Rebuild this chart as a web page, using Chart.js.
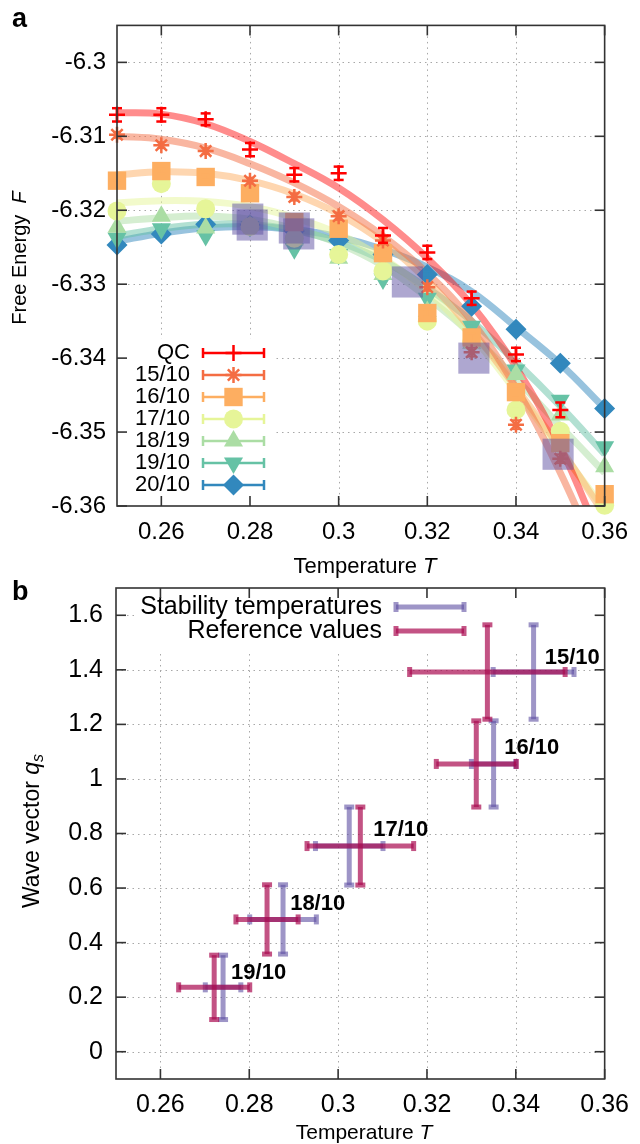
<!DOCTYPE html>
<html>
<head>
<meta charset="utf-8">
<script src="https://cdn.jsdelivr.net/npm/chart.js@4.4.1/dist/chart.umd.min.js"></script>
<style>
  html, body { margin: 0; padding: 0; background: #fff; }
  #wrapA { position: absolute; left: 0; top: 0; width: 640px; height: 584px; }
  #wrapB { position: absolute; left: 0; top: 560px; width: 640px; height: 584px; }
</style>
</head>
<body>
<div id="wrapA"><canvas id="chartA" width="640" height="584"></canvas></div>
<div id="wrapB"><canvas id="chartB" width="640" height="584"></canvas></div>
<script>
// ---------- panel a : free energy ----------
const temps = [0.25, 0.26, 0.27, 0.28, 0.29, 0.30, 0.31, 0.32, 0.33, 0.34, 0.35, 0.36];
const seriesNames = ['QC', '15/10', '16/10', '17/10', '18/19', '19/10', '20/10'];

const fQC = [-6.3071, -6.3071, -6.3077, -6.3118, -6.3152, -6.3150, -6.3234, -6.3257, -6.3319, -6.3395, -6.3470, null];
const f15 = [-6.3098, -6.3112, -6.3120, -6.3160, -6.3182, -6.3208, -6.3241, -6.3304, -6.3392, -6.3490, -6.3536, null];
const f16 = [-6.3160, -6.3147, -6.3155, -6.3177, -6.3216, -6.3225, -6.3258, -6.3339, -6.3372, -6.3446, -6.3515, -6.3584];
const f17 = [-6.3201, -6.3164, -6.3198, -6.3222, -6.3238, -6.3260, -6.3282, -6.3350, -6.3378, -6.3470, -6.3499, -6.3599];
const f18 = [-6.3223, -6.3208, -6.3224, -6.3220, -6.3240, -6.3265, -6.3287, -6.3337, -6.3380, -6.3422, -6.3477, -6.3547];
const f19 = [-6.3238, -6.3225, -6.3234, -6.3222, -6.3252, -6.3260, -6.3293, -6.3319, -6.3357, -6.3416, -6.3457, -6.3520];
const f20 = [-6.3247, -6.3232, -6.3219, -6.3220, -6.3228, -6.3241, -6.3260, -6.3287, -6.3330, -6.3361, -6.3407, -6.3468];

const eQC = [0.0009, 0.0009, 0.0008, 0.0009, 0.0009, 0.0009, 0.0010, 0.0009, 0.0009, 0.0009, 0.0010, 0];
const e15 = [0.0004, 0.0004, 0.0004, 0.0004, 0.0005, 0.0005, 0.0005, 0.0005, 0.0006, 0.0006, 0.0006, 0];
const e16 = [0.0003, 0.0003, 0.0003, 0.0004, 0.0004, 0.0004, 0.0004, 0.0005, 0.0005, 0.0005, 0.0006, 0.0006];
const e17 = [0.0003, 0.0003, 0.0003, 0.0003, 0.0004, 0.0004, 0.0004, 0.0004, 0.0005, 0.0005, 0.0005, 0.0006];
const e18 = [0.0003, 0.0003, 0.0003, 0.0003, 0.0003, 0.0004, 0.0004, 0.0004, 0.0004, 0.0005, 0.0005, 0.0005];
const e19 = [0.0003, 0.0003, 0.0003, 0.0003, 0.0003, 0.0003, 0.0004, 0.0004, 0.0004, 0.0005, 0.0005, 0.0005];
const e20 = [0.0003, 0.0003, 0.0003, 0.0003, 0.0003, 0.0004, 0.0004, 0.0004, 0.0005, 0.0005, 0.0006, 0.0006];

// fitted curves
const fitQC = [-6.3068, -6.3070, -6.3083, -6.3107, -6.3137, -6.3170, -6.3213, -6.3265, -6.3328, -6.3412, -6.3520, -6.3660];
const fit15 = [-6.3100, -6.3104, -6.3116, -6.3137, -6.3163, -6.3195, -6.3235, -6.3285, -6.3350, -6.3440, -6.3555, -6.3690];
const fit16 = [-6.3152, -6.3148, -6.3150, -6.3160, -6.3178, -6.3205, -6.3243, -6.3295, -6.3362, -6.3440, -6.3522, -6.3612];
const fit17 = [-6.3190, -6.3187, -6.3188, -6.3195, -6.3210, -6.3232, -6.3265, -6.3310, -6.3370, -6.3445, -6.3525, -6.3605];
const fit18 = [-6.3215, -6.3210, -6.3208, -6.3212, -6.3225, -6.3245, -6.3275, -6.3318, -6.3368, -6.3428, -6.3492, -6.3555];
const fit19 = [-6.3235, -6.3225, -6.3219, -6.3219, -6.3227, -6.3243, -6.3268, -6.3305, -6.3350, -6.3405, -6.3465, -6.3530];
const fit20 = [-6.3242, -6.3231, -6.3224, -6.3222, -6.3226, -6.3236, -6.3253, -6.3277, -6.3310, -6.3358, -6.3408, -6.3468];

// stability points (purple squares)
const stabTa = [0.2795, 0.2805, 0.2900, 0.2910, 0.3155, 0.3305, 0.3495];
const stabFa = [-6.3212, -6.3220, -6.3224, -6.3232, -6.3297, -6.3400, -6.3530];

const xTicks = [0.26, 0.28, 0.30, 0.32, 0.34, 0.36];
const yTicksA = [-6.36, -6.35, -6.34, -6.33, -6.32, -6.31, -6.30];

// ---------- panel b : wave vector ----------
const bNames = ['15/10', '16/10', '17/10', '18/10', '19/10'];
const qS = [1.392, 1.055, 0.754, 0.485, 0.236];
const qErr = [0.173, 0.158, 0.143, 0.127, 0.118];
const stabT = [0.3440, 0.3350, 0.3025, 0.2876, 0.2741];
const stabTErr = [0.0091, 0.0050, 0.0076, 0.0075, 0.0040];
const refT = [0.3336, 0.3311, 0.3050, 0.2840, 0.2721];
const refTErr = [0.0175, 0.0090, 0.0120, 0.0070, 0.0080];
const labelT = [0.3465, 0.3374, 0.3079, 0.2892, 0.2759];
const labelQ = [1.443, 1.115, 0.813, 0.541, 0.290];
const yTicksB = [0, 0.2, 0.4, 0.6, 0.8, 1.0, 1.2, 1.4, 1.6];

// ---------- styles ----------
const FONT = "'Liberation Sans', Arial, Helvetica, sans-serif";
Chart.defaults.font.family = FONT;
Chart.defaults.color = '#000';

const colors = ['#ff0000', '#f46d43', '#fdae61', '#e6f598', '#abdda4', '#66c2a5', '#3288bd'];
const markers = [
  { style: 'cross', r: 8, rot: 0, bw: 2.5, cap: 5 },
  { style: 'star', r: 8, rot: 0, bw: 2.5, cap: 4 },
  { style: 'rect', r: 13, rot: 0, bw: 0, cap: 4 },
  { style: 'circle', r: 9.5, rot: 0, bw: 0, cap: 4 },
  { style: 'triangle', r: 11, rot: 0, bw: 0, cap: 4 },
  { style: 'triangle', r: 11, rot: 180, bw: 0, cap: 4 },
  { style: 'rectRot', r: 10.5, rot: 0, bw: 0, cap: 4 }
];
const purpleSq = 'rgba(94, 79, 162, 0.5)';
const stabColor = 'rgba(94, 79, 162, 0.6)';
const refColor = 'rgba(170, 10, 80, 0.7)';

function rgba(hex, a) {
  const n = parseInt(hex.slice(1), 16);
  return `rgba(${n >> 16}, ${(n >> 8) & 255}, ${n & 255}, ${a})`;
}
function seg(ctx, x1, y1, x2, y2) {
  ctx.beginPath(); ctx.moveTo(x1, y1); ctx.lineTo(x2, y2); ctx.stroke();
}
function fmt(v) { return String(+v.toFixed(4)); }

function drawMixed(ctx, parts, x, y) {
  let total = 0;
  parts.forEach(p => { ctx.font = p.font; p.w = ctx.measureText(p.text).width; total += p.w; });
  let cx = x - total / 2;
  parts.forEach(p => { ctx.font = p.font; ctx.fillText(p.text, cx, y + (p.dy || 0)); cx += p.w; });
}

function drawGrid(chart, yTicks) {
  const { ctx, chartArea: a } = chart;
  const xs = chart.scales.x, ys = chart.scales.y;
  ctx.save();
  ctx.strokeStyle = '#a8a8a8'; ctx.lineWidth = 1; ctx.setLineDash([1.5, 4]);
  xTicks.forEach(v => {
    const px = Math.round(xs.getPixelForValue(v)) + 0.5;
    if (px < a.right - 2) seg(ctx, px, a.top, px, a.bottom);
  });
  yTicks.forEach(v => {
    const py = Math.round(ys.getPixelForValue(v)) + 0.5;
    if (py < a.bottom - 2 && py > a.top + 2) seg(ctx, a.left, py, a.right, py);
  });
  ctx.restore();
}

function drawFrame(chart, yTicks) {
  const { ctx, chartArea: a } = chart;
  const xs = chart.scales.x, ys = chart.scales.y;
  ctx.save();
  ctx.strokeStyle = '#333'; ctx.lineWidth = 1.6; ctx.setLineDash([]);
  xTicks.forEach(v => {
    const px = xs.getPixelForValue(v);
    seg(ctx, px, a.bottom, px, a.bottom - 10);
    seg(ctx, px, a.top, px, a.top + 10);
  });
  yTicks.forEach(v => {
    const py = ys.getPixelForValue(v);
    seg(ctx, a.left, py, a.left + 10, py);
    seg(ctx, a.right, py, a.right - 10, py);
  });
  ctx.strokeRect(a.left, a.top, a.right - a.left, a.bottom - a.top);
  ctx.restore();
}

function fixedScales(yMin, yMax, yTicks, yWidth, xHeight, xFont, yFont, xPad, yPad) {
  return {
    x: {
      type: 'linear', min: 0.25, max: 0.36,
      afterBuildTicks: s => { s.ticks = xTicks.map(v => ({ value: v })); },
      afterFit: s => { s.height = xHeight; },
      ticks: { callback: fmt, font: { size: xFont }, padding: xPad, maxRotation: 0, autoSkip: false },
      grid: { display: false, drawTicks: false },
      border: { display: false }
    },
    y: {
      type: 'linear', min: yMin, max: yMax,
      afterBuildTicks: s => { s.ticks = yTicks.map(v => ({ value: v })); },
      afterFit: s => { s.width = yWidth; },
      ticks: { callback: fmt, font: { size: yFont }, padding: yPad, autoSkip: false },
      grid: { display: false, drawTicks: false },
      border: { display: false }
    }
  };
}

// ---------- chart a ----------
const pointSets = [fQC, f15, f16, f17, f18, f19, f20];
const errSets = [eQC, e15, e16, e17, e18, e19, e20];
const fitSets = [fitQC, fit15, fit16, fit17, fit18, fit19, fit20];

const datasetsA = [];
fitSets.forEach((fit, i) => {
  datasetsA.push({
    data: temps.map((t, k) => ({ x: t, y: fit[k] })),
    showLine: true, borderColor: rgba(colors[i], i === 0 ? 0.45 : 0.5), borderWidth: 7,
    pointRadius: 0, tension: 0.4, fill: false, order: 3, clip: 0
  });
});
pointSets.forEach((vals, i) => {
  const pts = [], errs = [];
  temps.forEach((t, k) => {
    if (vals[k] !== null) { pts.push({ x: t, y: vals[k] }); errs.push(errSets[i][k]); }
  });
  const m = markers[i];
  datasetsA.push({
    data: pts, errors: errs, capHalf: m.cap, errWidth: i === 0 ? 2.5 : 2,
    showLine: false, pointStyle: m.style, pointRadius: m.r, pointRotation: m.rot,
    pointBackgroundColor: colors[i], pointBorderColor: colors[i], pointBorderWidth: m.bw,
    borderColor: colors[i], order: 2, clip: false
  });
});
datasetsA.push({
  data: stabTa.map((t, k) => ({ x: t, y: stabFa[k] })),
  showLine: false, pointStyle: 'rect', pointRadius: 22,
  pointBackgroundColor: purpleSq, pointBorderWidth: 0, order: 1, clip: false
});

const panelA = {
  id: 'panelA',
  beforeDatasetsDraw(chart) {
    drawGrid(chart, yTicksA);
    const { ctx, chartArea: a } = chart;
    ctx.save();
    ctx.fillStyle = '#fff';
    ctx.fillRect(a.left + 1, 339, 155, a.bottom - 340);
    ctx.restore();
  },
  afterDatasetDraw(chart, args) {
    const ds = chart.data.datasets[args.index];
    if (!ds.errors) return;
    const { ctx } = chart;
    const xs = chart.scales.x, ys = chart.scales.y;
    ctx.save();
    ctx.strokeStyle = ds.borderColor; ctx.lineWidth = ds.errWidth;
    ds.data.forEach((p, k) => {
      const e = ds.errors[k];
      if (!e) return;
      const px = xs.getPixelForValue(p.x);
      const y1 = ys.getPixelForValue(p.y - e), y2 = ys.getPixelForValue(p.y + e);
      seg(ctx, px, y1, px, y2);
      seg(ctx, px - ds.capHalf, y1, px + ds.capHalf, y1);
      seg(ctx, px - ds.capHalf, y2, px + ds.capHalf, y2);
    });
    ctx.restore();
  },
  afterDatasetsDraw(chart) {
    const { ctx } = chart;
    ctx.save();
    // key
    seriesNames.forEach((name, i) => {
      const y = 353 + i * 22;
      ctx.font = `22px ${FONT}`; ctx.fillStyle = '#000';
      ctx.textAlign = 'right'; ctx.textBaseline = 'middle';
      ctx.fillText(name, 190, y);
      ctx.strokeStyle = colors[i]; ctx.lineWidth = 2.5;
      seg(ctx, 203, y, 264, y);
      seg(ctx, 203, y - 5, 203, y + 5);
      seg(ctx, 264, y - 5, 264, y + 5);
      const m = markers[i];
      ctx.fillStyle = colors[i]; ctx.strokeStyle = colors[i]; ctx.lineWidth = m.bw || 1;
      Chart.helpers.drawPoint(ctx, { pointStyle: m.style, radius: m.r, rotation: m.rot, borderWidth: m.bw }, 233.5, y);
    });
    ctx.restore();
    drawFrame(chart, yTicksA);
  },
  afterDraw(chart) {
    const { ctx } = chart;
    ctx.save();
    ctx.fillStyle = '#000'; ctx.textBaseline = 'middle'; ctx.textAlign = 'left';
    drawMixed(ctx, [
      { text: 'Temperature ', font: `22px ${FONT}` },
      { text: 'T', font: `italic 22px ${FONT}` }
    ], 365, 567);
    ctx.save();
    ctx.translate(20, 258); ctx.rotate(-Math.PI / 2);
    drawMixed(ctx, [
      { text: 'Free Energy  ', font: `20px ${FONT}` },
      { text: 'F', font: `italic 20px ${FONT}` }
    ], 0, 0);
    ctx.restore();
    ctx.font = `bold 27px ${FONT}`; ctx.textBaseline = 'alphabetic';
    ctx.fillText('a', 12, 27);
    ctx.restore();
  }
};

new Chart(document.getElementById('chartA'), {
  type: 'scatter',
  data: { datasets: datasetsA },
  options: {
    responsive: false, animation: false, devicePixelRatio: 1, events: [],
    layout: { padding: { top: 10, right: 27, left: 0, bottom: 0 } },
    plugins: { legend: { display: false }, tooltip: { enabled: false } },
    scales: fixedScales(-6.36, -6.295, yTicksA, 117, 78, 24, 24, 12, 11)
  },
  plugins: [panelA]
});

// ---------- chart b ----------
function drawCross(ctx, xs, ys, t, tErr, q, qE, color) {
  ctx.strokeStyle = color; ctx.lineWidth = 5; ctx.lineCap = 'butt';
  const xc = xs.getPixelForValue(t), x0 = xs.getPixelForValue(t - tErr), x1 = xs.getPixelForValue(t + tErr);
  const yc = ys.getPixelForValue(q), y0 = ys.getPixelForValue(q - qE), y1 = ys.getPixelForValue(q + qE);
  seg(ctx, x0, yc, x1, yc);
  seg(ctx, x0, yc - 5, x0, yc + 5);
  seg(ctx, x1, yc - 5, x1, yc + 5);
  seg(ctx, xc, y0, xc, y1);
  seg(ctx, xc - 5, y0, xc + 5, y0);
  seg(ctx, xc - 5, y1, xc + 5, y1);
}

const panelB = {
  id: 'panelB',
  beforeDatasetsDraw(chart) {
    drawGrid(chart, yTicksB);
    const { ctx, chartArea: a } = chart;
    ctx.save();
    ctx.fillStyle = '#fff';
    ctx.fillRect(138, a.top + 1, 462, 62);
    ctx.restore();
  },
  afterDatasetsDraw(chart) {
    const { ctx } = chart;
    const xs = chart.scales.x, ys = chart.scales.y;
    ctx.save();
    stabT.forEach((t, k) => drawCross(ctx, xs, ys, t, stabTErr[k], qS[k], qErr[k], stabColor));
    refT.forEach((t, k) => drawCross(ctx, xs, ys, t, refTErr[k], qS[k], qErr[k], refColor));
    ctx.fillStyle = '#000'; ctx.font = `bold 22px ${FONT}`;
    ctx.textAlign = 'left'; ctx.textBaseline = 'middle';
    bNames.forEach((n, k) => {
      ctx.fillText(n, xs.getPixelForValue(labelT[k]), ys.getPixelForValue(labelQ[k]));
    });
    // key
    [['Stability temperatures', stabColor, 47], ['Reference values', refColor, 71]].forEach(([txt, col, y]) => {
      ctx.font = `25px ${FONT}`; ctx.fillStyle = '#000'; ctx.textAlign = 'right';
      ctx.fillText(txt, 382, y);
      ctx.strokeStyle = col; ctx.lineWidth = 5;
      seg(ctx, 396, y, 464, y);
      seg(ctx, 396, y - 5, 396, y + 5);
      seg(ctx, 464, y - 5, 464, y + 5);
    });
    ctx.restore();
    drawFrame(chart, yTicksB);
  },
  afterDraw(chart) {
    const { ctx } = chart;
    ctx.save();
    ctx.fillStyle = '#000'; ctx.textBaseline = 'middle'; ctx.textAlign = 'left';
    drawMixed(ctx, [
      { text: 'Temperature ', font: `21px ${FONT}` },
      { text: 'T', font: `italic 21px ${FONT}` }
    ], 364, 573);
    ctx.save();
    ctx.translate(33, 271); ctx.rotate(-Math.PI / 2);
    drawMixed(ctx, [
      { text: 'Wave vector ', font: `23px ${FONT}` },
      { text: 'q', font: `italic 23px ${FONT}` },
      { text: 's', font: `italic 16px ${FONT}`, dy: 6 }
    ], 0, 0);
    ctx.restore();
    ctx.font = `bold 27px ${FONT}`; ctx.textBaseline = 'alphabetic';
    ctx.fillText('b', 12, 40);
    ctx.restore();
  }
};

new Chart(document.getElementById('chartB'), {
  type: 'scatter',
  data: {
    datasets: [
      { label: 'Stability temperatures', data: stabT.map((t, k) => ({ x: t, y: qS[k] })), pointRadius: 0 },
      { label: 'Reference values', data: refT.map((t, k) => ({ x: t, y: qS[k] })), pointRadius: 0 }
    ]
  },
  options: {
    responsive: false, animation: false, devicePixelRatio: 1, events: [],
    layout: { padding: { top: 24, right: 28, left: 0, bottom: 0 } },
    plugins: { legend: { display: false }, tooltip: { enabled: false } },
    scales: fixedScales(-0.1, 1.7, yTicksB, 116, 65, 25, 25, 11, 13)
  },
  plugins: [panelB]
});
</script>
</body>
</html>
